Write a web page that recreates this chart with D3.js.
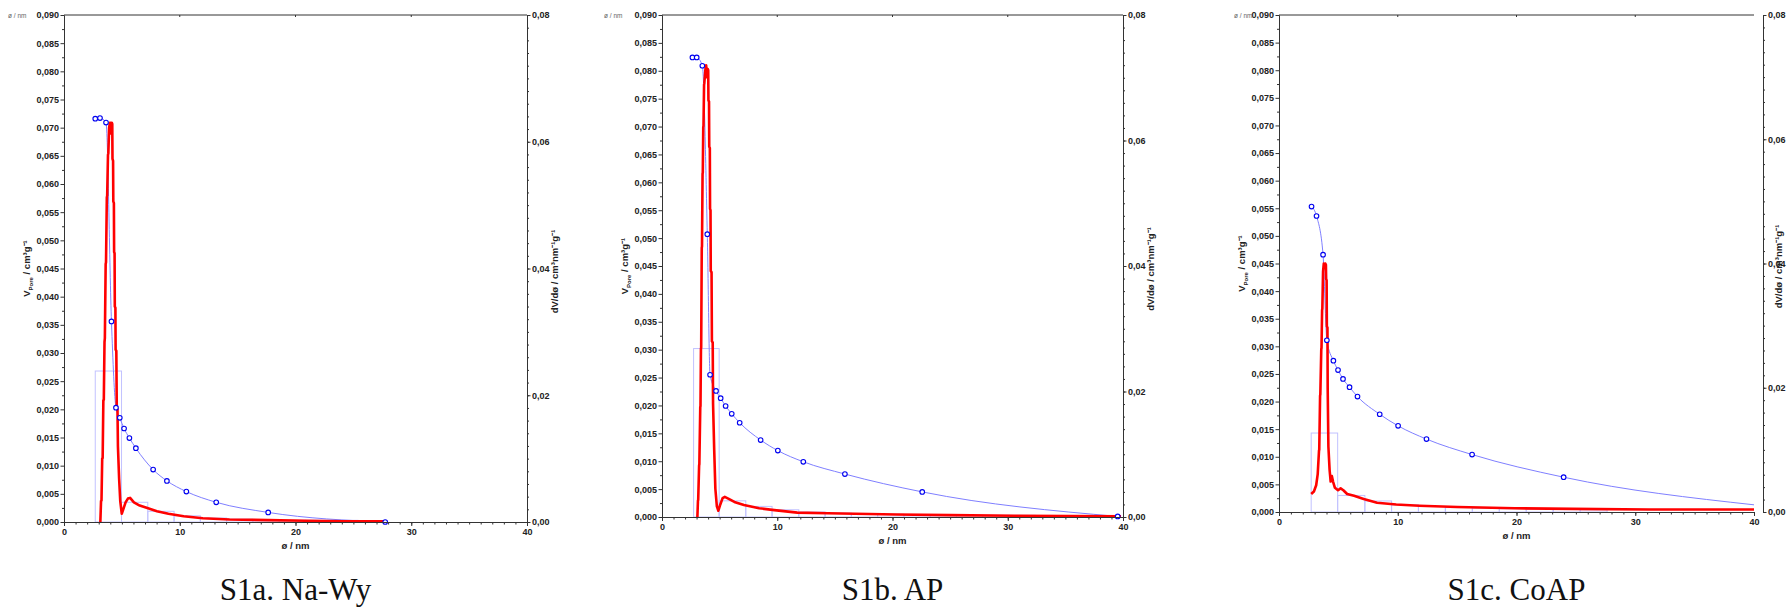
<!DOCTYPE html>
<html>
<head>
<meta charset="utf-8">
<script src="https://cdn.jsdelivr.net/npm/d3@7"></script>
<style>
body { margin: 0; background: #fff; }
.ax text { font-family: "Liberation Sans", Arial, sans-serif; font-size: 9px; font-weight: bold; fill: #222; }
.ax path, .ax line { stroke: #333; }
</style>
</head>
<body>
<script>
// tick values
var xTicks = [0, 10, 20, 30, 40];
var leftTicks = [0, 0.005, 0.01, 0.015, 0.02, 0.025, 0.03, 0.035, 0.04, 0.045,
                 0.05, 0.055, 0.06, 0.065, 0.07, 0.075, 0.08, 0.085, 0.09];
var rightTicks = [0, 0.02, 0.04, 0.06, 0.08];
var captions = ["S1a. Na-Wy", "S1b. AP", "S1c. CoAP"];

// Na-Wy : cumulative pore volume (points), curve, histogram, dV/dd
var naWyPoints = [[2.70,0.0716],[3.11,0.0717],[3.63,0.0709],[4.10,0.0356],[4.49,0.0203],
  [4.82,0.0185],[5.19,0.0166],[5.65,0.0149],[6.21,0.0131],[7.70,0.0093],[8.89,0.0073],
  [10.57,0.0054],[13.15,0.0035],[17.64,0.0017],[27.75,0.0000]];
var naWyCurveTail = [];
var naWyBinEdges = [2.70, 4.97, 7.24, 9.51, 11.78, 14.05, 16.32, 18.59, 20.86, 23.13, 25.40];
var naWyBinV = [0.0268, 0.0035, 0.0019, 0.0011, 0.0007, 0.0005, 0.0004, 0.0003, 0.0003, 0.0003];
var naWyDist = [[3.14,0],[3.20,0.0033],[3.24,0.0034],[3.30,0.0100],[3.34,0.0101],[3.40,0.0192],
  [3.44,0.0193],[3.50,0.0284],[3.53,0.0290],[3.60,0.0407],[3.63,0.0410],[3.70,0.0512],
  [3.73,0.0515],[3.80,0.0579],[3.83,0.0582],[3.90,0.0622],[3.96,0.0630],[4.02,0.0630],
  [4.06,0.0613],[4.10,0.0615],[4.13,0.0630],[4.17,0.0628],[4.19,0.0573],[4.24,0.0570],
  [4.26,0.0506],[4.31,0.0503],[4.33,0.0426],[4.37,0.0424],[4.39,0.0340],[4.44,0.0338],
  [4.46,0.0272],[4.52,0.0270],[4.56,0.0180],[4.62,0.0178],[4.66,0.0119],[4.76,0.0069],
  [4.86,0.0033],[4.99,0.0013],[5.12,0.0020],[5.32,0.0031],[5.52,0.0037],[5.71,0.0038],
  [6.04,0.0031],[6.54,0.0026],[7.20,0.0022],[8.03,0.0017],[9.02,0.0013],[10.34,0.0009],
  [11.99,0.0006],[14.30,0.0004],[17.61,0.0003],[20.91,0.0002],[24.21,0.0001],[27.68,0.0001]];

// AP
var apPoints = [[2.64,0.0824],[3.01,0.0824],[3.50,0.0809],[3.93,0.0507],[4.17,0.0255],
  [4.69,0.0226],[5.09,0.0213],[5.52,0.0199],[6.05,0.0185],[6.74,0.0169],[8.56,0.0138],
  [10.05,0.0119],[12.26,0.0099],[15.87,0.0077],[22.58,0.0045],[39.54,0.0001]];
var apCurveTail = [];
var apBinEdges = [2.74, 4.96, 7.27, 9.55, 11.87, 14.15, 16.43, 18.71, 20.99, 23.27, 25.55,
  27.83, 30.11, 32.39, 34.67, 36.95];
var apBinV = [0.0302, 0.0029, 0.0019, 0.0013, 0.0009, 0.0007, 0.0006, 0.0005, 0.0004, 0.0004,
  0.0003, 0.0003, 0.0003, 0.0002, 0.0002];
var apDist = [[3.07,0],[3.12,0.0026],[3.14,0.0027],[3.22,0.0082],[3.24,0.0084],[3.32,0.0175],
  [3.34,0.0177],[3.38,0.0268],[3.40,0.0270],[3.45,0.0429],[3.47,0.0431],[3.52,0.0547],
  [3.54,0.0549],[3.58,0.0621],[3.60,0.0623],[3.65,0.0689],[3.67,0.0691],[3.77,0.0714],
  [3.83,0.0720],[3.90,0.0701],[3.97,0.0714],[4.01,0.0712],[4.03,0.0664],[4.08,0.0662],
  [4.10,0.0590],[4.15,0.0588],[4.17,0.0491],[4.21,0.0489],[4.23,0.0392],[4.30,0.0390],
  [4.33,0.0280],[4.40,0.0278],[4.43,0.0181],[4.53,0.0107],[4.63,0.0045],[4.76,0.0017],
  [4.89,0.0010],[5.06,0.0020],[5.26,0.0030],[5.45,0.0032],[5.79,0.0029],[6.28,0.0024],
  [7.11,0.0019],[8.43,0.0014],[9.75,0.0011],[11.74,0.0007],[14.38,0.0006],[20.33,0.0004],
  [24.96,0.0003],[30.58,0.0002],[39.83,0.0001]];

// CoAP
var coApPoints = [[2.74,0.0553],[3.16,0.0536],[3.71,0.0466],[4.03,0.0311],[4.58,0.0274],
  [4.97,0.0257],[5.39,0.0241],[5.94,0.0226],[6.61,0.0209],[8.48,0.0177],[10.03,0.0156],
  [12.42,0.0132],[16.26,0.0104],[23.97,0.0063]];
var coApCurveTail = [[40,0.0013]];
var coApBinEdges = [2.71, 4.94, 7.23, 9.48, 11.74, 14.01, 16.28, 18.55, 20.82, 23.09, 25.36, 27.63];
var coApBinV = [0.0143, 0.0030, 0.0020, 0.0013, 0.0010, 0.0008, 0.0007, 0.0006, 0.0005, 0.0005, 0.0004];
var coApDist = [[2.71,0.0029],[2.94,0.0033],[3.13,0.0043],[3.26,0.0061],[3.37,0.0099],
  [3.39,0.0100],[3.46,0.0187],[3.48,0.0189],[3.56,0.0262],[3.58,0.0264],[3.63,0.0325],
  [3.65,0.0327],[3.71,0.0387],[3.77,0.0400],[3.84,0.0393],[3.90,0.0400],[3.95,0.0398],
  [3.97,0.0375],[4.01,0.0373],[4.03,0.0299],[4.08,0.0297],[4.10,0.0199],[4.16,0.0105],
  [4.26,0.0068],[4.35,0.0049],[4.45,0.0058],[4.55,0.0049],[4.71,0.0039],[4.97,0.0035],
  [5.19,0.0038],[5.42,0.0035],[5.74,0.0029],[6.32,0.0026],[7.13,0.0021],[8.26,0.0015],
  [9.87,0.0012],[11.81,0.0010],[15.03,0.0008],[19.87,0.0006],[24.71,0.0005],[31.16,0.0004],
  [40,0.0004]];

var panels = [
  {pts: naWyPoints, tail: naWyCurveTail, edges: naWyBinEdges, bins: naWyBinV, dist: naWyDist,
   left: 64, right: 527, axisR: 527, top: 15, bottom: 522, cornerX: 8, rTitle: 31},
  {pts: apPoints, tail: apCurveTail, edges: apBinEdges, bins: apBinV, dist: apDist,
   left: 662, right: 1123, axisR: 1123, top: 15, bottom: 517, cornerX: 604, rTitle: 31},
  {pts: coApPoints, tail: coApCurveTail, edges: coApBinEdges, bins: coApBinV, dist: coApDist,
   left: 1279, right: 1754, axisR: 1763, top: 15, bottom: 512, cornerX: 1234, rTitle: 19}
];

var svg = d3.select("body").append("svg")
    .attr("width", 1789)
    .attr("height", 609);

var fmtL = function(d) { return d3.format(".3f")(d).replace(".", ","); };
var fmtR = function(d) { return d3.format(".2f")(d).replace(".", ","); };

panels.forEach(function(p, i) {
    var x = d3.scaleLinear().domain([0, 40]).range([p.left, p.right]);
    var yL = d3.scaleLinear().domain([0, 0.09]).range([p.bottom, p.top]);
    var yR = d3.scaleLinear().domain([0, 0.08]).range([p.bottom, p.top]);
    var g = svg.append("g");

    // histogram
    g.selectAll("rect.bin")
        .data(p.bins)
        .enter().append("rect")
        .attr("x", function(d, k) { return x(p.edges[k]); })
        .attr("width", function(d, k) { return x(p.edges[k + 1]) - x(p.edges[k]); })
        .attr("y", function(d) { return yL(d); })
        .attr("height", function(d) { return p.bottom - yL(d); })
        .attr("fill", "none")
        .attr("stroke", "#c2c2ff")
        .attr("stroke-width", 1);

    // cumulative curve
    var cum = d3.line()
        .x(function(d) { return x(d[0]); })
        .y(function(d) { return yL(d[1]); })
        .curve(d3.curveMonotoneX);
    g.append("path")
        .attr("d", cum(p.pts.concat(p.tail)))
        .attr("fill", "none")
        .attr("stroke", "#7f7fff")
        .attr("stroke-width", 1);

    // dV/dd
    var dist = d3.line()
        .x(function(d) { return x(d[0]); })
        .y(function(d) { return yR(d[1]); });
    g.append("path")
        .attr("d", dist(p.dist))
        .attr("fill", "none")
        .attr("stroke", "#ff0000")
        .attr("stroke-width", 2.6)
        .attr("stroke-linejoin", "round");

    g.selectAll("circle")
        .data(p.pts)
        .enter().append("circle")
        .attr("cx", function(d) { return x(d[0]); })
        .attr("cy", function(d) { return yL(d[1]); })
        .attr("r", 2.3)
        .attr("fill", "#fff")
        .attr("stroke", "#0000f0")
        .attr("stroke-width", 1.1);

    // top border
    g.append("line")
        .attr("x1", p.left).attr("x2", p.right)
        .attr("y1", p.top).attr("y2", p.top)
        .attr("stroke", "#333");
    xTicks.slice(1, -1).forEach(function(t) {
        g.append("line")
            .attr("x1", x(t)).attr("x2", x(t))
            .attr("y1", p.top).attr("y2", p.top + 2)
            .attr("stroke", "#333");
    });

    // axes
    g.append("g").attr("class", "ax")
        .attr("transform", "translate(0," + p.bottom + ")")
        .call(d3.axisBottom(x).tickValues(d3.range(0, 41, 1)).tickSize(2.5).tickSizeOuter(0).tickFormat(""));
    g.append("g").attr("class", "ax")
        .attr("transform", "translate(0," + p.bottom + ")")
        .call(d3.axisBottom(x).tickValues(xTicks).tickSize(4).tickSizeOuter(0).tickPadding(3));

    g.append("g").attr("class", "ax")
        .attr("transform", "translate(" + p.left + ",0)")
        .call(d3.axisLeft(yL).tickValues(d3.range(0.0025, 0.09, 0.005)).tickSize(2).tickSizeOuter(0).tickFormat(""));
    g.append("g").attr("class", "ax")
        .attr("transform", "translate(" + p.left + ",0)")
        .call(d3.axisLeft(yL).tickValues(leftTicks).tickSize(3.5).tickSizeOuter(0).tickPadding(1.5).tickFormat(fmtL));

    g.append("g").attr("class", "ax")
        .attr("transform", "translate(" + p.axisR + ",0)")
        .call(d3.axisRight(yR).tickValues(d3.range(0, 0.0801, 0.002)).tickSize(2).tickSizeOuter(0).tickFormat(""));
    g.append("g").attr("class", "ax")
        .attr("transform", "translate(" + p.axisR + ",0)")
        .call(d3.axisRight(yR).tickValues(rightTicks).tickSize(3.5).tickSizeOuter(0).tickPadding(1.5).tickFormat(fmtR));

    // titles
    var mid = (p.top + p.bottom) / 2;
    var lt = g.append("text")
        .attr("transform", "translate(" + (p.left - 34) + "," + mid + ") rotate(-90)")
        .attr("text-anchor", "middle")
        .style("font-family", "Liberation Sans, Arial, sans-serif")
        .style("font-size", "9.5px").style("font-weight", "bold").style("fill", "#222");
    lt.append("tspan").text("V");
    lt.append("tspan").attr("dy", 2.5).style("font-size", "6px").text("Pore");
    lt.append("tspan").attr("dy", -2.5).text(" / cm³g⁻¹");

    g.append("text")
        .attr("transform", "translate(" + (p.axisR + p.rTitle) + "," + (mid + 3) + ") rotate(-90)")
        .attr("text-anchor", "middle")
        .style("font-family", "Liberation Sans, Arial, sans-serif")
        .style("font-size", "9.5px").style("font-weight", "bold").style("fill", "#222")
        .text("dV/dø / cm³nm⁻¹g⁻¹");

    g.append("text")
        .attr("x", (p.left + p.right) / 2).attr("y", p.bottom + 27)
        .attr("text-anchor", "middle")
        .style("font-family", "Liberation Sans, Arial, sans-serif")
        .style("font-size", "9.5px").style("font-weight", "bold").style("fill", "#222")
        .text("ø / nm");

    g.append("text")
        .attr("x", p.cornerX).attr("y", p.top + 3)
        .style("font-family", "Liberation Sans, Arial, sans-serif")
        .style("font-size", "6.5px").style("fill", "#666")
        .text("ø / nm");

    svg.append("text")
        .attr("x", (p.left + p.right) / 2).attr("y", 600)
        .attr("text-anchor", "middle")
        .style("font-family", "Liberation Serif, Times New Roman, serif")
        .style("font-size", "31px").style("fill", "#111")
        .text(captions[i]);
});
</script>
</body>
</html>
